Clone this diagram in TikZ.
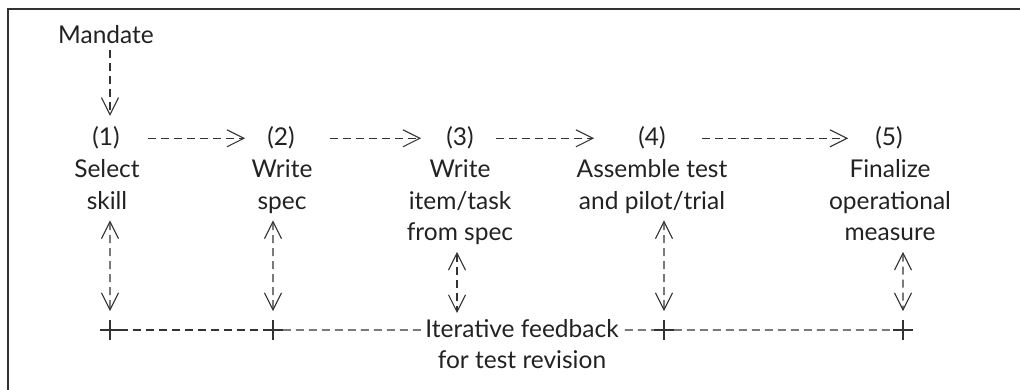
\documentclass[tikz,border=0pt]{standalone}
\usepackage{fontspec}
\setmainfont{Lato}
\usetikzlibrary{arrows.meta,calc,positioning,shapes.misc}
\definecolor{ink}{HTML}{333333}
\definecolor{inktext}{HTML}{222222}

\begin{document}
\begin{tikzpicture}[x=1pt,y=-1pt,
 txt/.style={font=\fontsize{24.5}{31.5}\selectfont,text=inktext,inner sep=0pt,align=center},
 dsh/.style={draw=ink,line width=1.1pt,dash pattern=on 8pt off 5pt},
 arr/.style={dsh,-{Straight Barb[length=17pt,width=17pt]}},
 twoway/.style={dsh,{Straight Barb[length=17pt,width=17pt]}-{Straight Barb[length=17pt,width=17pt]}},
 plusmark/.style={cross out,draw=ink,line width=1.1pt,rotate=45,minimum size=13pt,inner sep=0pt}
]
\useasboundingbox (0,0) rectangle (1020,390);
\draw[ink,line width=2pt] (1020,9) -- (8,9) -- (8,390);

\node[txt,anchor=base] (mand) at (106,44) {Mandate};
% step numbers
\node[txt,anchor=base] (n1) at (106,146) {(1)};
\node[txt,anchor=base] (n2) at (281,146) {(2)};
\node[txt,anchor=base] (n3) at (460,146) {(3)};
\node[txt,anchor=base] (n4) at (652,146) {(4)};
\node[txt,anchor=base] (n5) at (889,146) {(5)};
% step texts
\node[txt,anchor=north] (d1) at (107,155.5) {\strut Select\\skill\strut};
\node[txt,anchor=north] (d2) at (282,155.5) {\strut Write\\spec\strut};
\node[txt,anchor=north] (d3) at (460,155.5) {\strut Write\\item/task\\from spec\strut};
\node[txt,anchor=north] (d4) at (652,155.5) {\strut Assemble test\\and pilot/trial\strut};
\node[txt,anchor=north] (d5) at (890,155.5) {\strut Finalize\\operational\\measure\strut};
% feedback row
\node[plusmark] (p1) at (110,330) {};
\node[plusmark] (p2) at (273,330) {};
\node[plusmark] (p4) at (664,330) {};
\node[plusmark] (p5) at (903,330) {};
\node[txt,anchor=north] (fb) at (522,315) {\strut Iterative feedback\\for test revision};

\draw[arr,shorten <=6pt,shorten >=11pt] (mand.south -| p1) -- (n1.north -| p1);
\draw[arr,shorten <=28pt,shorten >=22pt] (n1) -- (n2);
\draw[arr,shorten <=35pt,shorten >=25pt] (n2) -- (n3);
\draw[arr,shorten <=22pt,shorten >=44pt] (n3) -- (n4);
\draw[arr,shorten <=36pt,shorten >=27pt] (n4) -- (n5);

\draw[twoway,shorten <=1.5pt,shorten >=9pt] (d1.south -| p1) -- (p1);
\draw[twoway,shorten <=1.5pt,shorten >=9pt] (d2.south -| p2) -- (p2);
\draw[twoway,shorten <=1.5pt,shorten >=2pt] (d3.south -| 457,0) -- (fb.north -| 457,0);
\draw[twoway,shorten <=1.5pt,shorten >=9pt] (d4.south -| p4) -- (p4);
\draw[twoway,shorten <=1.5pt,shorten >=9pt] (d5.south -| p5) -- (p5);

\draw[dsh] (p1) -- (p2);
\draw[dsh,shorten >=3pt] (p2) -- (p2 -| fb.west);
\draw[dsh,shorten <=6pt] (p2 -| fb.east) -- (p4);
\draw[dsh] (p4) -- (p5);
\end{tikzpicture}
\end{document}
